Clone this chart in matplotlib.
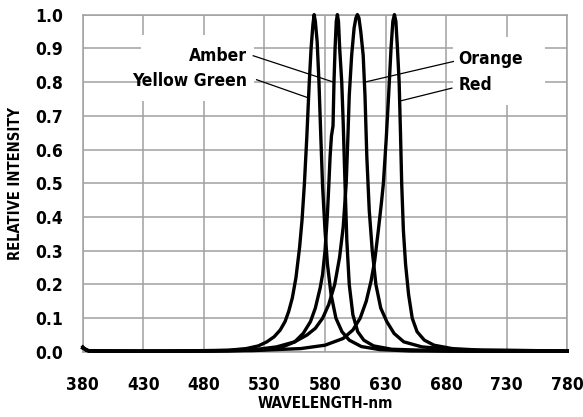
import matplotlib
matplotlib.use("Agg")
import matplotlib.pyplot as plt
from matplotlib.patches import Rectangle

# spectra (wavelength nm, relative intensity)
yg_nm = [380, 383, 390, 420, 460, 500, 515, 525, 532, 538, 543, 547, 550, 553, 556, 559, 561,
         563, 565, 567, 568.5, 570, 571, 572, 573.5, 575, 576.5, 578, 580, 582, 585, 589, 594,
         600, 610, 625, 650, 700, 780]
yg_rel = [0.015, 0.004, 0.002, 0.002, 0.003, 0.005, 0.01, 0.018, 0.03, 0.045, 0.065, 0.09, 0.12,
          0.16, 0.22, 0.31, 0.39, 0.50, 0.64, 0.80, 0.90, 0.97, 1.0, 0.98, 0.92, 0.80, 0.64, 0.49,
          0.36, 0.26, 0.17, 0.10, 0.06, 0.035, 0.016, 0.007, 0.003, 0.002, 0.002]

amber_nm = [380, 385, 400, 450, 500, 530, 545, 555, 562, 568, 572, 576, 578, 580, 582, 583.2, 584.2,
            585.3, 586.6, 587.4, 588.3, 589.3, 590.2, 591.1, 592.1, 593.8, 595, 596.5, 598, 600,
            603, 607, 612, 620, 635, 680, 780]
amber_rel = [0.012, 0.003, 0.003, 0.002, 0.003, 0.007, 0.015, 0.03, 0.055, 0.09, 0.13, 0.19, 0.23,
             0.30, 0.41, 0.50, 0.58, 0.64, 0.67, 0.80, 0.90, 0.98, 1.0, 0.98, 0.90, 0.80, 0.68,
             0.50, 0.33, 0.20, 0.11, 0.06, 0.035, 0.018, 0.008, 0.003, 0.002]

orange_nm = [380, 385, 420, 480, 520, 540, 555, 565, 572, 578, 583, 588, 592, 595, 597.5, 599, 600,
             602, 604, 605.5, 606.7, 608, 609.5, 611.5, 613, 614.5, 616.5, 619, 622, 626, 631, 637,
             645, 660, 690, 780]
orange_rel = [0.012, 0.003, 0.002, 0.003, 0.006, 0.015, 0.03, 0.05, 0.07, 0.10, 0.14, 0.20, 0.28,
              0.37, 0.50, 0.65, 0.76, 0.88, 0.96, 0.99, 1.0, 0.99, 0.95, 0.88, 0.76, 0.58, 0.42,
              0.30, 0.20, 0.13, 0.09, 0.055, 0.03, 0.015, 0.006, 0.003]

red_nm = [380, 385, 450, 520, 560, 580, 595, 603, 609, 614, 618, 621, 624, 626.5, 628.2, 630.5,
          632.5, 634.5, 636, 637.3, 638.5, 639.8, 641.2, 642.3, 643.3, 644.7, 646.5, 649, 652,
          656, 662, 670, 685, 710, 780]
red_rel = [0.012, 0.003, 0.002, 0.004, 0.01, 0.02, 0.04, 0.065, 0.1, 0.15, 0.21, 0.27, 0.36, 0.44,
           0.50, 0.63, 0.76, 0.90, 0.98, 1.0, 0.98, 0.90, 0.80, 0.65, 0.50, 0.36, 0.26, 0.17, 0.10,
           0.06, 0.035, 0.02, 0.01, 0.005, 0.003]

x_ticks = list(range(380, 781, 50))
y_ticks = [i / 10 for i in range(0, 11)]

plt.rcParams['font.family'] = ['DejaVu Sans']
plt.rcParams['font.stretch'] = 'condensed'
plt.rcParams['font.weight'] = 'bold'

fig = plt.figure(figsize=(5.83, 4.17), dpi=100)
ax = fig.add_axes([0.142, 0.156, 0.831, 0.809])

grid_col = '#a0a0a0'
ax.set_xlim(380, 780)
ax.set_ylim(0, 1.0)
ax.set_xticks(x_ticks)
ax.set_yticks(y_ticks)
ax.set_yticklabels([f"{v:.1f}" for v in y_ticks])
ax.tick_params(length=0, labelsize=12.5, pad=14)
ax.tick_params(axis='x', pad=17)
ax.grid(True, color=grid_col, linewidth=1.1, zorder=0)
ax.set_axisbelow(True)
for s in ax.spines.values():
    s.set_color(grid_col)
    s.set_linewidth(1.1)

# white boxes behind the labels
ax.add_patch(Rectangle((428, 0.745), 93, 0.195, facecolor='white', edgecolor='none', zorder=1))
ax.add_patch(Rectangle((686, 0.733), 76, 0.2, facecolor='white', edgecolor='none', zorder=1))

for nm, rel in [(yg_nm, yg_rel), (amber_nm, amber_rel), (orange_nm, orange_rel), (red_nm, red_rel)]:
    ax.plot(nm, rel, color='black', linewidth=2.4, zorder=3, clip_on=False,
            solid_joinstyle='round')

# labels with leader lines
ax.text(515.5, 0.878, "Amber", ha='right', va='center', fontsize=12.5, fontweight='bold', zorder=4)
ax.text(515.5, 0.802, "Yellow Green", ha='right', va='center', fontsize=12.5, fontweight='bold', zorder=4)
ax.text(690, 0.869, "Orange", ha='left', va='center', fontsize=12.5, fontweight='bold', zorder=4)
ax.text(690, 0.792, "Red", ha='left', va='center', fontsize=12.5, fontweight='bold', zorder=4)
ax.plot([520.7, 586.9], [0.878, 0.80], color='black', linewidth=0.9, zorder=4)
ax.plot([523.5, 564.8], [0.807, 0.755], color='black', linewidth=0.9, zorder=4)
ax.plot([686, 613], [0.861, 0.80], color='black', linewidth=0.9, zorder=4)
ax.plot([684.7, 643.3], [0.782, 0.745], color='black', linewidth=0.9, zorder=4)

ax.set_xlabel("WAVELENGTH-nm", fontsize=11, fontweight='bold', labelpad=2)
ax.set_ylabel("RELATIVE INTENSITY", fontsize=10.5, fontweight='bold', labelpad=9)

fig.savefig("out.png", dpi=100)
